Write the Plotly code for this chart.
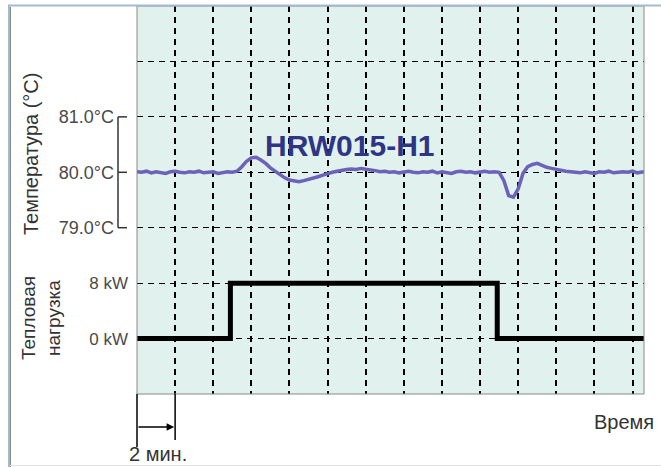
import plotly.graph_objects as go

# ---- data ----
temp_times = [
    0, 0.25, 0.5, 0.75, 1, 1.25, 1.5, 1.75, 2, 2.25, 2.5, 2.75, 3, 3.25, 3.5, 3.75,
    4, 4.25, 4.5, 4.75, 5, 5.25, 5.5, 5.75, 6, 6.25, 6.5, 6.75, 7, 7.25, 7.5, 7.75,
    8, 8.25, 8.5, 8.75, 9, 9.25, 9.5, 9.75, 10, 10.25, 10.5, 10.75, 11, 11.25, 11.5, 11.75,
    12, 12.25, 12.5, 12.75, 13, 13.25, 13.5, 13.75, 14, 14.25, 14.5, 14.75, 15, 15.25,
    15.5, 15.75, 16, 16.25, 16.5, 16.75, 17, 17.25, 17.5, 17.75, 18, 18.25, 18.5, 18.75,
    19, 19.25, 19.5, 19.75, 20, 20.25, 20.5, 20.75, 21, 21.25, 21.5, 21.75, 22, 22.25,
    22.5, 22.75, 23, 23.25, 23.5, 23.75, 24, 24.25, 24.5, 24.75, 25, 25.25, 25.5, 25.75,
    26, 26.25, 26.6,
]
temp_values = [
    80.01, 80.00, 80.02, 79.99, 80.01, 80.00, 79.98, 80.01, 80.02, 80.00, 79.99, 80.01,
    80.00, 80.02, 79.99, 80.00, 80.01, 79.98, 80.00, 80.01, 80.00, 80.02, 80.10, 80.20,
    80.26, 80.27, 80.22, 80.16, 80.08, 80.02, 79.96, 79.90, 79.86, 79.84, 79.83, 79.85,
    79.87, 79.90, 79.92, 79.95, 79.98, 80.00, 80.02, 80.04, 80.05, 80.06, 80.05, 80.07,
    80.06, 80.05, 80.03, 80.01, 80.02, 80.00, 80.01, 79.99, 80.00, 80.02, 80.00, 79.99,
    80.01, 80.00, 80.02, 79.99, 80.01, 80.00, 79.98, 80.01, 80.02, 80.00, 80.01, 79.99,
    80.00, 80.02, 80.00, 80.01, 80.00, 79.85, 79.58, 79.55, 79.70, 79.98, 80.10, 80.14,
    80.16, 80.12, 80.09, 80.07, 80.05, 80.04, 80.02, 80.01, 80.00, 79.99, 80.01, 80.00,
    79.98, 80.01, 80.00, 80.02, 79.99, 80.00, 80.01, 80.00, 80.02, 79.99, 80.01,
]
power_times = [0, 4.9, 18.9, 26.6]
power_kw = [0, 8, 0, 0]

temp_tickvals = [77, 78, 79, 80, 81, 82]
temp_ticktext = ["", "", "79.0°C", "80.0°C", "81.0°C", ""]
power_tickvals = [0, 8]
power_ticktext = ["0 kW", "8 kW"]
time_gridvals = [2, 4, 6, 8, 10, 12, 14, 16, 18, 20, 22, 24, 26]

FONT = "Liberation Sans, Arial, sans-serif"

fig = go.Figure()
fig.add_trace(go.Scatter(
    x=temp_times, y=temp_values, mode="lines",
    line=dict(color="#6C62B8", width=3.5), yaxis="y", hoverinfo="skip",
))
fig.add_trace(go.Scatter(
    x=power_times, y=power_kw, mode="lines", line_shape="hv",
    line=dict(color="#000000", width=5), yaxis="y2", hoverinfo="skip",
))

fig.update_layout(
    width=661, height=467,
    margin=dict(l=137, r=17, t=6, b=73),
    paper_bgcolor="white", plot_bgcolor="#E1F2EE",
    showlegend=False,
    font=dict(family=FONT, color="#444444"),
    xaxis=dict(
        range=[0, 26.6], tickvals=time_gridvals, showticklabels=False,
        showgrid=True, gridcolor="#000000", gridwidth=1.5, griddash="6px,5px",
        zeroline=False, showline=False, ticks="",
    ),
    yaxis=dict(
        range=[76, 83], tickvals=temp_tickvals, ticktext=temp_ticktext,
        showgrid=True, gridcolor="#000000", gridwidth=1.3, griddash="6px,5px",
        zeroline=False, showline=False, ticks="", ticklabelstandoff=22,
        tickfont=dict(size=18, color="#4a4a4a", family=FONT),
    ),
    yaxis2=dict(
        range=[-8, 48], tickvals=power_tickvals, ticktext=power_ticktext,
        overlaying="y", side="left", showgrid=False, zeroline=False,
        showline=False, ticks="", ticklabelstandoff=8,
        tickfont=dict(size=17, color="#4a4a4a", family=FONT),
    ),
)

shapes = []
# plot border
shapes.append(dict(type="rect", xref="paper", yref="paper", x0=0, x1=1, y0=0, y1=1,
                   line=dict(color="#8a8a8a", width=1)))
# temperature bracket
px_l = (118 - 137) / 507.0
px_r = (127 - 137) / 507.0
shapes.append(dict(type="line", xref="paper", yref="y", x0=px_l, x1=px_l, y0=79, y1=81,
                   line=dict(color="#333333", width=1.5)))
for v in [79, 80, 81]:
    shapes.append(dict(type="line", xref="paper", yref="y", x0=px_l, x1=px_r, y0=v, y1=v,
                       line=dict(color="#333333", width=1.5)))
# time scale marker lines below the plot
shapes.append(dict(type="line", xref="paper", yref="paper", x0=0, x1=0,
                   y0=0, y1=(394 - 447) / 388.0, line=dict(color="#000000", width=1.5)))
shapes.append(dict(type="line", xref="x", yref="paper", x0=2, x1=2,
                   y0=0, y1=(394 - 440) / 388.0, line=dict(color="#000000", width=1.5)))
# outer frame
shapes.append(dict(type="line", xref="paper", yref="paper",
                   x0=(8 - 137) / 507.0, x1=(661 - 137) / 507.0,
                   y0=(394 - 5.5) / 388.0, y1=(394 - 5.5) / 388.0,
                   line=dict(color="#A3BAD0", width=2)))
shapes.append(dict(type="line", xref="paper", yref="paper",
                   x0=(9 - 137) / 507.0, x1=(9 - 137) / 507.0,
                   y0=(394 - 5) / 388.0, y1=(394 - 467) / 388.0,
                   line=dict(color="#A3BAD0", width=2)))
shapes.append(dict(type="line", xref="paper", yref="paper",
                   x0=(10.5 - 137) / 507.0, x1=(10.5 - 137) / 507.0,
                   y0=(394 - 7) / 388.0, y1=(394 - 467) / 388.0,
                   line=dict(color="#888888", width=1)))
shapes.append(dict(type="line", xref="paper", yref="paper",
                   x0=(10 - 137) / 507.0, x1=(661 - 137) / 507.0,
                   y0=(394 - 465.5) / 388.0, y1=(394 - 465.5) / 388.0,
                   line=dict(color="#E4E4E4", width=1)))
fig.update_layout(shapes=shapes)

annotations = [
    dict(text="Температура (°C)", xref="paper", yref="paper",
         x=(31 - 137) / 507.0, y=(394 - 154) / 388.0, textangle=-90,
         showarrow=False, xanchor="center", yanchor="middle",
         font=dict(size=20, color="#333333", family=FONT)),
    dict(text="Тепловая<br>нагрузка", xref="paper", yref="paper",
         x=(41 - 137) / 507.0, y=(394 - 318) / 388.0, textangle=-90,
         showarrow=False, xanchor="center", yanchor="middle",
         font=dict(size=19, color="#333333", family=FONT)),
    dict(text="<b>HRW015-H1</b>", xref="x", yref="y", x=6.6, y=80.49,
         showarrow=False, xanchor="left", yanchor="middle",
         font=dict(size=30, color="#2E3585", family=FONT)),
    dict(text="Время", xref="paper", yref="paper",
         x=(592 - 137) / 507.0, y=(394 - 422) / 388.0,
         showarrow=False, xanchor="left", yanchor="middle",
         font=dict(size=20, color="#333333", family=FONT)),
    dict(text="2 мин.", xref="paper", yref="paper",
         x=(158 - 137) / 507.0, y=(394 - 454) / 388.0,
         showarrow=False, xanchor="center", yanchor="middle",
         font=dict(size=20, color="#333333", family=FONT)),
    dict(text="", xref="x", yref="paper", x=2, y=(394 - 427) / 388.0,
         axref="x", ayref="pixel", ax=0, ay=0,
         showarrow=True, arrowhead=2, arrowsize=1, arrowwidth=1.5,
         arrowcolor="#000000", standoff=1),
]
fig.update_layout(annotations=annotations)

fig.write_html(
    "out.html",
    config={"displayModeBar": False},
    post_script="document.body.style.margin='0';document.body.style.overflow='hidden';",
)
